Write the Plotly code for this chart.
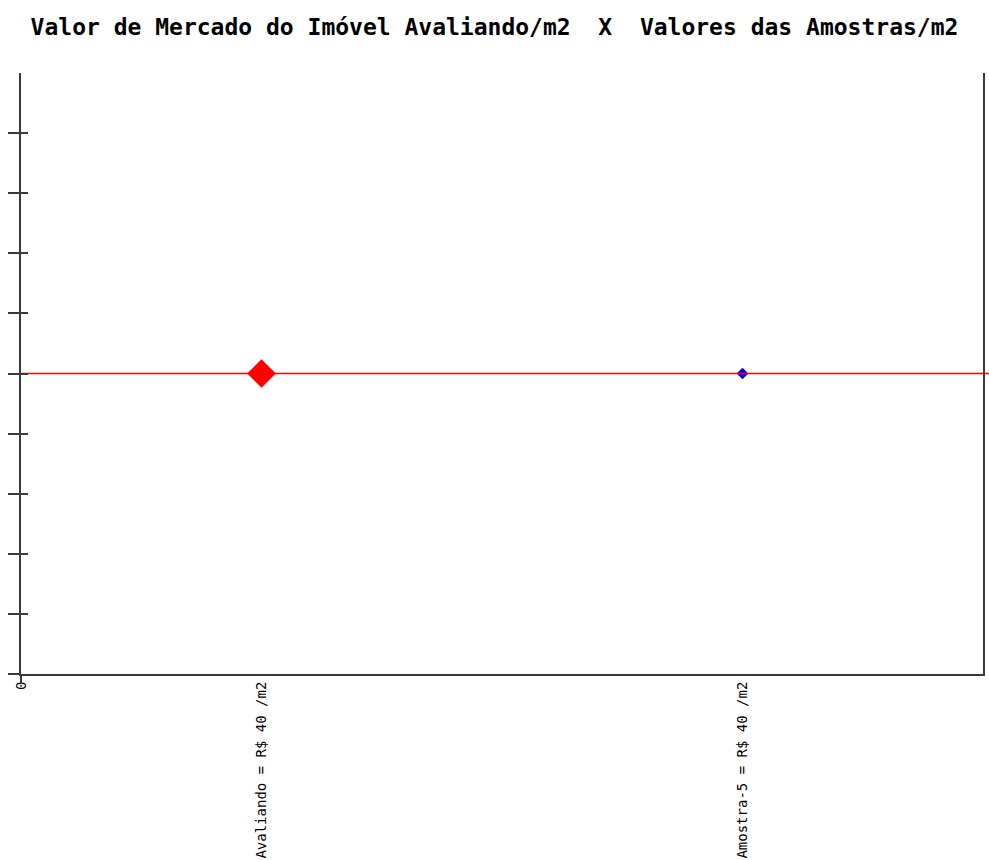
import plotly.graph_objects as go

# Market value per m2: the appraised property versus the sample
labels = ["0", "Avaliando = R$ 40 /m2", "Amostra-5 = R$ 40 /m2"]
label_pos = [0, 1, 3]
subject_x = [1]
subject_val = [40]
sample_x = [3]
sample_val = [40]
market_value = 40
x_range = [0, 4]
y_range = [0, 80]
y_ticks = [0, 8, 16, 24, 32, 40, 48, 56, 64, 72]

axis_color = "#3a3a3a"
mono = "DejaVu Sans Mono"

fig = go.Figure()

# sample point (drawn beneath the reference line)
fig.add_trace(go.Scatter(
    x=sample_x, y=sample_val, mode="markers",
    marker=dict(symbol="diamond", size=9, color="#0000ff", line=dict(width=0)),
    showlegend=False, hoverinfo="skip", cliponaxis=False,
))

# market value reference line across the plot area
fig.add_trace(go.Scatter(
    x=x_range, y=[market_value, market_value],
    mode="lines", line=dict(color="#ff0000", width=1.5),
    showlegend=False, hoverinfo="skip", cliponaxis=False,
))

# appraised property
fig.add_trace(go.Scatter(
    x=subject_x, y=subject_val, mode="markers",
    marker=dict(symbol="diamond", size=22, color="#ff0000", line=dict(width=0)),
    showlegend=False, hoverinfo="skip", cliponaxis=False,
))

# helper trace for the inner half of the crossing y ticks
fig.add_trace(go.Scatter(x=[None], y=[None], yaxis="y2", showlegend=False, hoverinfo="skip"))

# vertical position of the reference line as a fraction of the plot height
line_frac = (market_value - y_range[0]) / (y_range[1] - y_range[0])

fig.update_layout(
    width=989, height=860,
    margin=dict(l=21, r=6, t=73, b=186, pad=0, autoexpand=False),
    paper_bgcolor="white", plot_bgcolor="white",
    title=dict(
        text="<b>Valor de Mercado do Imóvel Avaliando/m2  X  Valores das Amostras/m2</b>",
        font=dict(family=mono, size=23, color="#000000"),
        x=0.5, xanchor="center", y=1 - 27 / 860, yanchor="middle",
    ),
    xaxis=dict(
        range=x_range, showgrid=False, zeroline=False, automargin=False,
        showline=True, linecolor=axis_color, linewidth=2,
        tickmode="array", tickvals=label_pos, ticktext=labels,
        tickangle=-90, ticks="", ticklen=0,
        tickfont=dict(family=mono, size=14, color="#000000"),
    ),
    yaxis=dict(
        range=y_range, showgrid=False, zeroline=False, automargin=False,
        showline=True, linecolor=axis_color, linewidth=2, mirror=True,
        tickmode="array", tickvals=y_ticks, showticklabels=False,
        ticks="outside", ticklen=11, tickwidth=2, tickcolor=axis_color,
    ),
    yaxis2=dict(
        range=y_range, overlaying="y", side="left", showgrid=False, zeroline=False,
        showline=False, tickmode="array", tickvals=y_ticks, showticklabels=False,
        ticks="inside", ticklen=7, tickwidth=2, tickcolor=axis_color, automargin=False,
    ),
    shapes=[
        # short stub of the left axis below the origin
        dict(type="line", xref="paper", yref="paper", x0=0, x1=0, y0=0, y1=-10 / 601,
             line=dict(color=axis_color, width=2)),
        # the reference line carries on past the right border
        dict(type="line", xref="paper", yref="paper", x0=1, x1=1.01,
             y0=line_frac, y1=line_frac, line=dict(color="#ff0000", width=1.5)),
    ],
)

fig.write_html("out.html")
